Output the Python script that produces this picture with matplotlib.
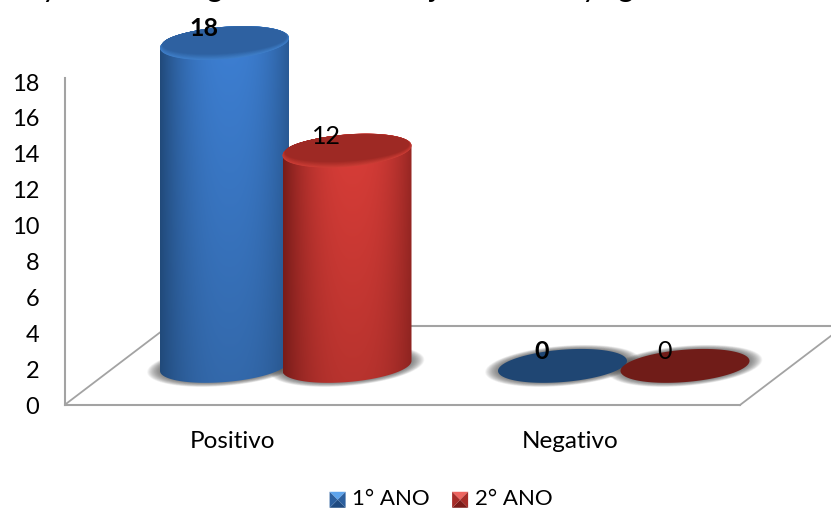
#!/usr/bin/env python3
"""Cylinder-style column chart of results per school year."""

import matplotlib
matplotlib.use("Agg")
import matplotlib.pyplot as plt
import numpy as np
from matplotlib.legend_handler import HandlerBase
from matplotlib.patches import Patch, Polygon

categories = ["Positivo", "Negativo"]
series_names = ["1° ANO", "2° ANO"]
ano1_values = [18, 0]
ano2_values = [12, 0]
y_ticks = [0, 2, 4, 6, 8, 10, 12, 14, 16, 18]

# clipped line of heading text along the top edge
heading_chars = ["y", "g", "j", "y", "g"]
heading_x = [50, 215, 433, 590, 626]

W, H = 831, 509
PX_PER_UNIT = 17.94
ZERO_PX = 405
AXIS_X = 64.5
FLOOR_END = 740
DEPTH = 2.18         # cylinders stand this far up the floor, in value units
BACK = 4.4
HALF_W = 64.5
ELL_B = 16.2         # ellipse half height, px
ELL_S = 5.0          # ellipse tilt, px
GRAY = "#a3a3a3"

group_x = [224.5, 562.5]
series_dx = [0, 122.5]
label_x = [233, 570]
bold_labels = [True, False]

palettes = [
    {"edge": (0.13, 0.29, 0.48), "mid": (0.24, 0.50, 0.83), "low": (0.20, 0.41, 0.67),
     "cap": (0.18, 0.38, 0.63), "rim": (0.25, 0.50, 0.79), "flat": "#1f4673",
     "bevel": ["#5ea4ec", "#2c5f9e", "#1f4a80", "#2c5f9e"]},
    {"edge": (0.47, 0.11, 0.10), "mid": (0.85, 0.24, 0.22), "low": (0.72, 0.20, 0.18),
     "cap": (0.62, 0.16, 0.14), "rim": (0.80, 0.24, 0.21), "flat": "#701c18",
     "bevel": ["#ee6560", "#a62c28", "#7c1c19", "#a62c28"]},
]

plt.rcParams["font.family"] = ["Lato", "DejaVu Sans"]


def ellipse_points(cx, level, scale=1.0, t0=0.0, t1=2 * np.pi, n=120):
    t = np.linspace(t0, t1, n)
    xs = cx + scale * HALF_W * np.cos(t)
    ys = level + scale * (ELL_B * np.sin(t) + ELL_S * np.cos(t)) / PX_PER_UNIT
    return np.column_stack([xs, ys])


def draw_shadow(ax, cx):
    level = DEPTH
    steps = 24
    for i in range(steps):
        f = (steps - i) / steps
        pts = ellipse_points(cx, level, 1.0)
        pts[:, 0] = cx + (pts[:, 0] - cx) * (1 + 0.2 * f)
        pts[:, 1] = level + (pts[:, 1] - level) * (1 + 0.24 * f)
        ax.add_patch(Polygon(pts, closed=True, fc="#505050", ec="none", alpha=0.04, zorder=2))


def draw_cylinder(ax, cx, value, pal, z):
    base = DEPTH
    top = DEPTH + value
    if value == 0:
        ax.add_patch(Polygon(ellipse_points(cx, base), closed=True, fc=pal["flat"],
                             ec="none", zorder=z))
        return

    # body: lower half of the base ellipse closed by the upper half of the top one
    lower = ellipse_points(cx, base, t0=np.pi, t1=2 * np.pi)
    upper = ellipse_points(cx, top, t0=0, t1=np.pi)
    body = Polygon(np.vstack([lower, upper]), closed=True, fc="none", ec="none",
                   transform=ax.transData, zorder=z)
    ax.add_patch(body)

    u = np.linspace(-1, 1, 160)
    v = np.linspace(0, 1, 120)[:, None, None]
    glow = (1 - np.abs((u - 0.08) / 1.08) ** 2.4)[None, :, None]
    edge = np.array(pal["edge"])[None, None, :]
    mid = np.array(pal["low"]) * (1 - v) + np.array(pal["mid"]) * v
    shade = edge * (1 - glow) + mid * glow
    y0 = base - (ELL_B + 2) / PX_PER_UNIT
    y1 = top + (ELL_B + 2) / PX_PER_UNIT
    im = ax.imshow(shade, extent=(cx - HALF_W, cx + HALF_W, y0, y1), origin="lower",
                   aspect="auto", interpolation="bilinear", zorder=z)
    im.set_clip_path(body)

    # top cap with a soft lighter rim along its near edge
    rim = np.array(pal["rim"])
    cap = np.array(pal["cap"])
    ax.add_patch(Polygon(ellipse_points(cx, top), closed=True, fc=rim, ec="none", zorder=z + 0.1))
    steps = 14
    for i in range(1, steps + 1):
        f = i / steps
        pts = ellipse_points(cx, top)
        pts[:, 0] = cx + (pts[:, 0] - cx) * (1 - 0.04 * f)
        pts[:, 1] = top + 2.6 * f / PX_PER_UNIT + (pts[:, 1] - top) * (1 - 0.2 * f)
        ax.add_patch(Polygon(pts, closed=True, fc=rim * (1 - f) + cap * f, ec="none",
                             zorder=z + 0.1 + i * 0.01))


class BevelHandler(HandlerBase):
    """Square legend key split into four shaded triangles."""

    def create_artists(self, legend, orig_handle, xdescent, ydescent, width, height, fontsize, trans):
        x0, y0 = -xdescent, -ydescent - 2
        x1, y1 = x0 + width, y0 + width
        xm, ym = (x0 + x1) / 2, (y0 + y1) / 2
        tris = [[(x0, y1), (x1, y1), (xm, ym)],
                [(x1, y1), (x1, y0), (xm, ym)],
                [(x1, y0), (x0, y0), (xm, ym)],
                [(x0, y0), (x0, y1), (xm, ym)]]
        colors = orig_handle.get_gid().split(",")
        return [Polygon(t, closed=True, fc=c, ec="none", transform=trans)
                for t, c in zip(tris, colors)]


def main():
    fig = plt.figure(figsize=(W / 100, H / 100), dpi=100, facecolor="white")
    ax = fig.add_axes([AXIS_X / W, 0, 1 - AXIS_X / W, 1])
    ax.set_xlim(AXIS_X, W)
    ax.set_ylim((ZERO_PX - H) / PX_PER_UNIT, ZERO_PX / PX_PER_UNIT)

    for name in ["top", "right"]:
        ax.spines[name].set_visible(False)
    ax.spines["left"].set_bounds(0, 18.2)
    ax.spines["bottom"].set_position(("data", 0))
    ax.spines["bottom"].set_bounds(AXIS_X, FLOOR_END)
    for name in ["left", "bottom"]:
        ax.spines[name].set_color(GRAY)
        ax.spines[name].set_linewidth(1.5)
    ax.set_xticks([])
    ax.set_yticks(y_ticks)
    ax.tick_params(axis="y", length=0, pad=18, labelsize=17, labelcolor="black")

    # floor edges
    slope = 0.76 * 1 / PX_PER_UNIT
    ax.plot([AXIS_X, AXIS_X + BACK / slope], [0, BACK], color=GRAY, lw=1.3, zorder=1)
    ax.plot([FLOOR_END, FLOOR_END + BACK / slope], [0, BACK], color=GRAY, lw=1.3, zorder=1)
    ax.plot([AXIS_X + BACK / slope, W], [BACK, BACK], color=GRAY, lw=1.5, zorder=1)

    all_values = [ano1_values, ano2_values]
    for g, gx in enumerate(group_x):
        for dx in series_dx:
            draw_shadow(ax, gx + dx)
    for s, values in enumerate(all_values):
        for g, gx in enumerate(group_x):
            draw_cylinder(ax, gx + series_dx[s], values[g], palettes[s], 3 + s)
    ax.set_xlim(AXIS_X, W)
    ax.set_ylim((ZERO_PX - H) / PX_PER_UNIT, ZERO_PX / PX_PER_UNIT)

    # value labels sit up and left of each cap
    for s, values in enumerate(all_values):
        for g, gx in enumerate(group_x):
            ax.text(gx + series_dx[s] - 21, DEPTH + values[g] + 14.5 / PX_PER_UNIT, str(values[g]),
                    ha="center", va="center", fontsize=18, color="black",
                    fontweight="bold" if bold_labels[s] else "normal", zorder=8)

    for name, x in zip(categories, label_x):
        ax.text(x, (ZERO_PX - 441) / PX_PER_UNIT, name, ha="center", va="center", fontsize=17.5)

    for ch, x in zip(heading_chars, heading_x):
        ax.text(x, (ZERO_PX + 3) / PX_PER_UNIT, ch, ha="center", va="baseline", fontsize=22,
                color="black", clip_on=False)

    handles = [Patch(gid=",".join(p["bevel"]), label=n) for p, n in zip(palettes, series_names)]
    ax.legend(handles=handles, handler_map={Patch: BevelHandler()}, ncol=2, frameon=False,
              loc="center", bbox_to_anchor=(441 / W, 1 - 499 / H), bbox_transform=fig.transFigure,
              fontsize=16, handlelength=0.72, handletextpad=0.3, columnspacing=1.0,
              borderpad=0)

    fig.savefig("out.png", dpi=100, facecolor="white")
    plt.close(fig)


if __name__ == "__main__":
    main()
